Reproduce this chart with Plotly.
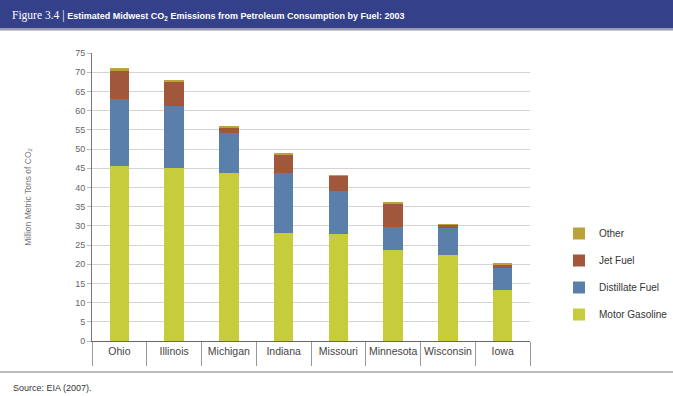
import plotly.graph_objects as go

states = ["Ohio", "Illinois", "Michigan", "Indiana", "Missouri", "Minnesota", "Wisconsin", "Iowa"]
motor_gasoline = [45.5, 45.0, 43.7, 28.2, 27.8, 23.7, 22.4, 13.3]
distillate_fuel = [17.5, 16.3, 10.5, 15.5, 11.2, 6.1, 6.9, 5.6]
jet_fuel = [7.3, 6.1, 1.3, 4.9, 4.0, 5.9, 1.0, 1.1]
other = [0.7, 0.6, 0.5, 0.1, 0.1, 0.5, 0.1, 0.1]

series_names = ["Motor Gasoline", "Distillate Fuel", "Jet Fuel", "Other"]
series_values = [motor_gasoline, distillate_fuel, jet_fuel, other]
series_colors = ["#c6cc3c", "#5a7faa", "#a1573c", "#bba23a"]
legend_ranks = [4, 3, 2, 1]

y_ticks = list(range(0, 80, 5))

FONT = "'Liberation Sans', Arial, sans-serif"
W, H = 673, 396
L, R, T, B = 92, 143, 53, 55
pw = W - L - R
ph = H - T - B

fig = go.Figure()
for name, vals, col, rk in zip(series_names, series_values, series_colors, legend_ranks):
    fig.add_trace(go.Bar(
        x=states, y=vals, name=name, marker=dict(color=col, line=dict(width=0)),
        width=0.36, legendgroup=name, legendrank=rk,
    ))


def px_x(p):
    return (p - L) / pw


def px_y(p):
    return 1 - (p - T) / ph


fig.update_layout(
    width=W, height=H,
    margin=dict(l=L, r=R, t=T, b=B, autoexpand=False),
    barmode="stack",
    paper_bgcolor="white", plot_bgcolor="white",
    font=dict(family=FONT, color="#555555", size=10),
    showlegend=True,
    legend=dict(
        xref="container", yref="container",
        x=559 / W, y=1 - 219 / H, xanchor="left", yanchor="top",
        traceorder="grouped", tracegroupgap=8,
        font=dict(family=FONT, size=10, color="#333333"),
        itemwidth=30, bgcolor="rgba(0,0,0,0)",
    ),
    xaxis=dict(
        showgrid=False, showline=True, linecolor="#666666", linewidth=1,
        ticks="outside", tickson="boundaries", ticklen=24, tickcolor="#999999",
        tickfont=dict(family=FONT, size=10.5, color="#444444"),
        tickangle=0, automargin=False,
    ),
    yaxis=dict(
        range=[0, 75], tickvals=y_ticks, showgrid=True, gridcolor="#d4d4d4",
        gridwidth=1, showline=True, linecolor="#777777", linewidth=1,
        ticks="outside", ticklen=4, tickcolor="#bbbbbb",
        tickfont=dict(family=FONT, size=9, color="#666666"),
        zeroline=False, automargin=False,
        title=dict(text="Million Metric Tons of CO<sub>2</sub>", standoff=42,
                   font=dict(family=FONT, size=8.5, color="#777777")),
    ),
)

# header bar
fig.add_shape(type="rect", xref="paper", yref="paper",
              x0=px_x(0), x1=px_x(W), y0=px_y(28), y1=px_y(0),
              fillcolor="#34418a", line=dict(width=0), layer="below")
fig.add_shape(type="rect", xref="paper", yref="paper",
              x0=px_x(0), x1=px_x(W), y0=px_y(30.5), y1=px_y(28),
              fillcolor="#9a9ab0", line=dict(width=0), layer="below")
fig.add_annotation(
    xref="paper", yref="paper", x=px_x(10), y=px_y(15), xanchor="left", yanchor="middle",
    showarrow=False,
    text=("<span style=\"font-family:'Liberation Serif', serif; font-size:11.5px\">Figure 3.4 | </span>"
          "<b>Estimated Midwest CO<sub>2</sub> Emissions from Petroleum Consumption by Fuel: 2003</b>"),
    font=dict(family=FONT, size=9, color="white"),
)

# bottom rule and source
fig.add_shape(type="line", xref="paper", yref="paper",
              x0=px_x(0), x1=px_x(W), y0=px_y(372), y1=px_y(372),
              line=dict(color="#777777", width=1))
fig.add_annotation(
    xref="paper", yref="paper", x=px_x(11), y=px_y(388), xanchor="left", yanchor="middle",
    showarrow=False, text="Source: EIA (2007).",
    font=dict(family=FONT, size=9, color="#333333"),
)

fig.write_html("out.html", config={"displayModeBar": False},
               post_script="document.body.style.margin='0';")
